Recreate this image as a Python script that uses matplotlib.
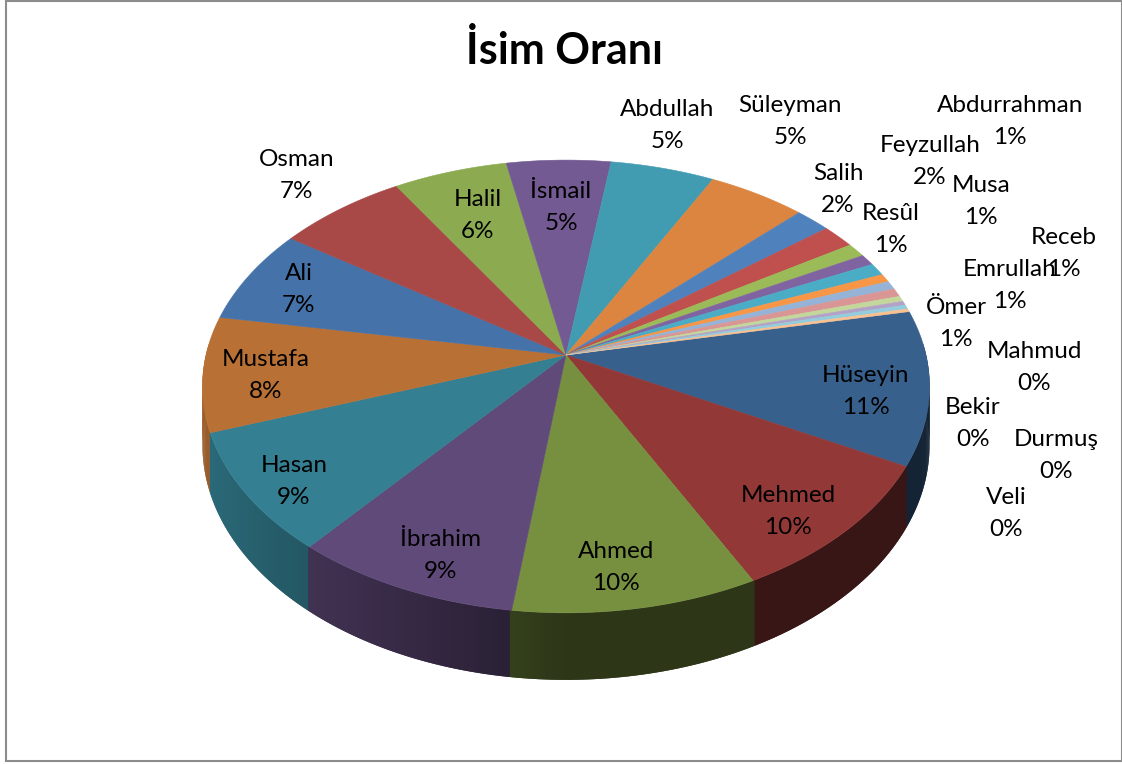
import numpy as np
import matplotlib
matplotlib.use("Agg")
import matplotlib.pyplot as plt
from matplotlib.collections import PolyCollection
from matplotlib.patches import Rectangle
import matplotlib.colors as mcolors

# ---------------- data ----------------
names = ["Hüseyin", "Mehmed", "Ahmed", "İbrahim", "Hasan", "Mustafa", "Ali",
         "Osman", "Halil", "İsmail", "Abdullah", "Süleyman", "Salih",
         "Feyzullah", "Abdurrahman", "Musa", "Resûl", "Receb", "Emrullah",
         "Ömer", "Mahmud", "Bekir", "Durmuş", "Veli"]
values = [11.0, 9.7, 9.6, 8.9, 8.6, 8.2, 6.8,
          6.6, 5.8, 5.3, 5.3, 5.0, 1.8,
          1.7, 1.0, 0.8, 0.9, 0.6, 0.6,
          0.6, 0.4, 0.3, 0.3, 0.2]
title = "İsim Oranı"

# ---------------- style ----------------
colors = ["#38608C", "#923938", "#779040", "#604A7A", "#348092", "#B97034",
          "#4572A8", "#A84947", "#8CAA50", "#735A92", "#419CB1", "#DC8540",
          "#4F81BD", "#C0504D", "#9BBB59", "#8064A2", "#4BACC6", "#F79646",
          "#95B3D7", "#D99694", "#C3D69B", "#B3A2C7", "#93CDDD", "#FAC090"]
# label centre (x, y) in pixels (name line centre)
label_pos = [(866, 375), (788, 496), (616, 551), (441, 540), (294, 466),
             (266, 360), (299, 273), (297, 160), (478, 200), (561, 192),
             (667, 110), (790, 106), (838, 174), (930, 145), (1010, 106),
             (981, 186), (891, 214), (1064, 237), (1010, 270), (956, 308),
             (1034, 352), (973, 407), (1056, 440), (1006, 497)]
LINE_GAP = 32

W, H = 1122, 764
fig = plt.figure(figsize=(W / 100, H / 100), dpi=100)
ax = fig.add_axes([0, 0, 1, 1])
ax.set_xlim(0, W)
ax.set_ylim(H, 0)
ax.axis("off")

cx, cy, R, RT, P, THK = 566, 355, 360, 222, 0.139, 57.7
start = np.deg2rad(11.6)


def proj(theta, z):
    X = np.cos(theta)
    D = np.sin(theta)
    s = 1.0 / (1.0 + P * D)
    return cx + R * X * s, cy - RT * D * s + THK * z * s


vals = np.array(values, dtype=float)
frac = vals / vals.sum()
cum = np.concatenate([[0], np.cumsum(frac)])
th0 = start - 2 * np.pi * cum[:-1]
th1 = start - 2 * np.pi * cum[1:]

# ---- side walls (thin overlapping strips, shaded by orientation) ----
STEP = np.deg2rad(0.5)
OVL = np.deg2rad(0.25)
wall_polys, wall_cols, wall_depth = [], [], []
for i in range(len(vals)):
    n = max(2, int(np.ceil(abs(th1[i] - th0[i]) / STEP)))
    ts = np.linspace(th0[i], th1[i], n + 1)
    base = np.array(mcolors.to_rgb(colors[i]))
    for a, b in zip(ts[:-1], ts[1:]):
        m = 0.5 * (a + b)
        if np.sin(m) > 0.05:
            continue
        f = 0.38 + 0.47 * max(0.0, -np.cos(m))
        aa, bb = a + OVL, b - OVL
        pts = [proj(aa, 0), proj(bb, 0), proj(bb, 1), proj(aa, 1)]
        wall_polys.append(pts)
        wall_cols.append(np.clip(base * f, 0, 1))
        wall_depth.append(np.sin(m))
order = np.argsort(wall_depth)[::-1]
pc = PolyCollection([wall_polys[k] for k in order],
                    facecolors=[wall_cols[k] for k in order],
                    edgecolors="none", linewidths=0)
ax.add_collection(pc)

# ---- top faces ----
tops = []
for i in range(len(vals)):
    n = max(2, int(np.ceil(abs(th1[i] - th0[i]) / STEP)))
    ts = np.linspace(th0[i], th1[i], n + 1)
    pts = [(cx, cy)] + [proj(t, 0) for t in ts]
    tops.append(pts)
pc2 = PolyCollection(tops, facecolors=colors, edgecolors=colors, linewidths=0.4)
ax.add_collection(pc2)

# ---- labels ----
FONT = "Lato"
for i, (x, y) in enumerate(label_pos):
    pct = int(frac[i] * 100 + 0.5)
    ax.text(x, y, names[i], ha="center", va="center", fontsize=17.5,
            family=FONT, color="black")
    ax.text(x, y + LINE_GAP, f"{pct}%", ha="center", va="center",
            fontsize=17.5, family=FONT, color="black")

ax.text(565, 51, title, ha="center", va="center", fontsize=31,
        fontweight="bold", family=FONT, color="black")

# ---- chart border ----
ax.add_patch(Rectangle((6, 1), 1116, 760, fill=False, edgecolor="#8C8C8C",
                       linewidth=1.5))

fig.savefig("out.png", dpi=100)
